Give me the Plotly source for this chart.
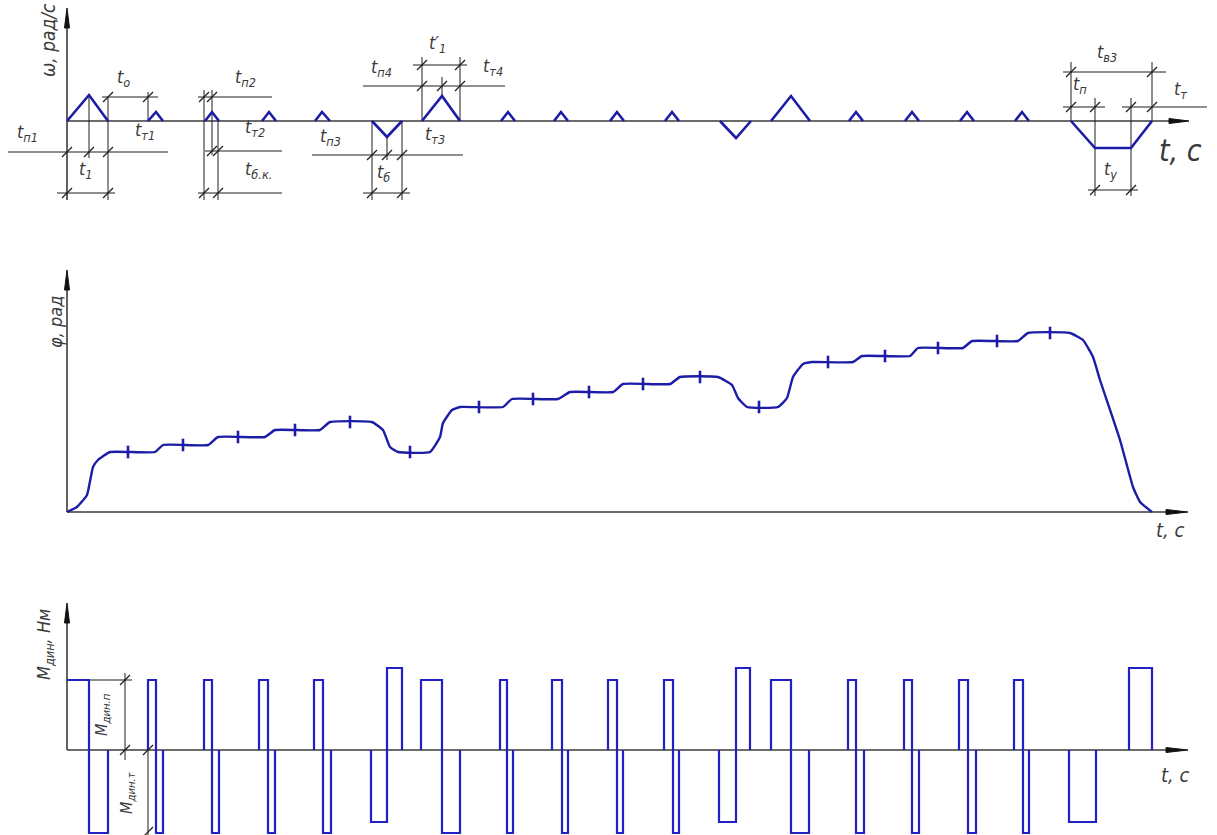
import plotly.graph_objects as go

# ---------------- data ----------------
# angular velocity manoeuvres, time in drawing units, None separates manoeuvres
omega_t = [0, 22, 41, None, 81, 89, 96, None, 138, 145, 152, None, 195, 202, 209, None,
           248, 255, 263, None, 305, 320, 335, None, 355, 375, 393, None,
           434, 441, 448, None, 487, 494, 501, None, 543, 550, 557, None, 598, 605, 612, None,
           653, 669, 684, None, 704, 724, 743, None, 782, 789, 796, None, 838, 845, 852, None,
           893, 900, 907, None, 948, 955, 962, None, 1004, 1028, 1064, 1085]
omega_w = [0, 26, 0, None, 0, 9, 0, None, 0, 9, 0, None, 0, 9, 0, None,
           0, 9, 0, None, 0, -16, 0, None, 0, 25, 0, None,
           0, 9, 0, None, 0, 9, 0, None, 0, 9, 0, None, 0, 9, 0, None,
           0, -17, 0, None, 0, 25, 0, None, 0, 9, 0, None, 0, 9, 0, None,
           0, 9, 0, None, 0, 9, 0, None, 0, -27, -27, 0]

# rotation angle
phi_t = [0, 10, 20, 26, 31, 43, 88, 96, 141, 151, 198, 208, 253, 263, 305, 316, 323, 331,
         363, 373, 376, 385, 393, 436, 445, 491, 503, 546, 556, 603, 613, 651, 665, 671, 680,
         711, 720, 726, 736, 745, 786, 795, 843, 851, 896, 905, 951, 961, 1003, 1016, 1026,
         1033, 1053, 1066, 1073, 1085]
phi_v = [0, 5, 17, 45, 52, 60, 60, 67, 67, 75, 75, 82, 82, 90, 90, 82, 65, 60,
         60, 75, 89, 102, 105, 105, 113, 113, 120, 120, 128, 128, 135, 135, 127, 114, 105,
         105, 114, 135, 148, 150, 150, 156, 156, 164, 164, 171, 171, 179, 179, 172, 155,
         132, 72, 25, 10, 0]
phi_mark_t = [61, 116, 171, 228, 283, 343, 412, 466, 522, 576, 633, 692, 761, 818, 871, 930, 983]
phi_mark_v = [60, 67, 75, 82, 90, 60, 105, 113, 120, 128, 135, 105, 150, 156, 164, 171, 179]

# dynamic torque, stepwise (held until next time point)
m_t = [0, 22, 41, None,
       81, 81, 89, 96, None, 137, 137, 145, 152, None, 192, 192, 201, 208, None,
       247, 247, 256, 264, None, 304, 304, 320, 335, None, 354, 354, 375, 393, None,
       433, 433, 440, 446, None, 485, 485, 495, 501, None, 541, 541, 550, 556, None,
       597, 597, 606, 612, None, 652, 652, 669, 683, None, 704, 704, 724, 742, None,
       781, 781, 789, 797, None, 837, 837, 845, 852, None, 892, 892, 901, 909, None,
       947, 947, 956, 962, None, 1002, 1002, 1029, None, 1062, 1062, 1085]
m_v = [70, -83, 0, None,
       0, 70, -83, 0, None, 0, 70, -83, 0, None, 0, 70, -83, 0, None,
       0, 70, -83, 0, None, 0, -72, 82, 0, None, 0, 70, -83, 0, None,
       0, 70, -83, 0, None, 0, 70, -83, 0, None, 0, 70, -83, 0, None,
       0, 70, -83, 0, None, 0, -72, 82, 0, None, 0, 70, -83, 0, None,
       0, 70, -83, 0, None, 0, 70, -83, 0, None, 0, 70, -83, 0, None,
       0, 70, -83, 0, None, 0, -72, 0, None, 0, 82, 0]

# ---------------- styling ----------------
BLUE = "#1c1ca6"
MBLUE = "#2020c4"
AX = "#3a3a3a"
DIM = "#1e1e1e"
TXT = "#3a3a3a"
FONT = "Liberation Sans Narrow, DejaVu Sans Condensed, Liberation Sans, sans-serif"

fig = go.Figure()

fig.add_trace(go.Scatter(x=omega_t, y=omega_w, mode="lines", yaxis="y",
                         line=dict(color=BLUE, width=2.6), connectgaps=False))
fig.add_trace(go.Scatter(x=phi_t, y=phi_v, mode="lines", yaxis="y2",
                         line=dict(color=BLUE, width=2.4, shape="spline", smoothing=0.4)))
fig.add_trace(go.Scatter(x=phi_mark_t, y=phi_mark_v, mode="markers", yaxis="y2",
                         marker=dict(symbol="line-ns", size=9,
                                     line=dict(color=BLUE, width=2.6))))
fig.add_trace(go.Scatter(x=m_t, y=m_v, mode="lines", yaxis="y3", line_shape="hv",
                         line=dict(color=MBLUE, width=2.2), connectgaps=False))

shapes = []


def seg(t0, v0, t1, v1, yref, color=DIM, width=1.0):
    shapes.append(dict(type="line", xref="x", yref=yref, x0=t0, y0=v0, x1=t1, y1=v1,
                       line=dict(color=color, width=width), layer="below"))


def head(path, yref):
    shapes.append(dict(type="path", xref="x", yref=yref, path=path,
                       fillcolor="#111", line=dict(color="#111", width=1)))


# coordinate axes of the three diagrams
seg(0, -79, 0, 100, "y", AX, 1.6)
seg(0, 0, 1105, 0, "y", AX, 1.6)
head("M 0,113 L -2.5,93 L 2.5,93 Z", "y")
head("M 1122,0 L 1102,2.5 L 1102,-2.5 Z", "y")

seg(0, 0, 0, 225, "y2", AX, 1.6)
seg(0, 0, 1100, 0, "y2", AX, 1.6)
head("M 0,242 L -2.5,222 L 2.5,222 Z", "y2")
head("M 1121,0 L 1099,2.5 L 1099,-2.5 Z", "y2")

seg(0, 0, 0, 132, "y3", AX, 1.6)
seg(0, 0, 1100, 0, "y3", AX, 1.6)
head("M 0,147 L -2.5,127 L 2.5,127 Z", "y3")
head("M 1121,0 L 1099,2.5 L 1099,-2.5 Z", "y3")

# dimension and extension lines of the velocity diagram
dims_w = [
    (22, 26, 22, -37), (41, 24, 41, -79), (-59, -31, 101, -31), (-10, -72, 48, -72),
    (35, 24, 91, 24), (81, 29, 81, 0),
    (137, 31, 137, -79), (145, 31, 145, -34), (151, 0, 151, -79),
    (131, 24, 205, 24), (138, -30, 215, -30), (131, -72, 215, -72),
    (245, -34, 396, -34), (296, -72, 343, -72), (305, 0, 305, -79), (335, 0, 335, -79),
    (320, -16, 320, -39),
    (296, 35, 438, 35), (346, 56, 400, 56), (355, 64, 355, 0), (393, 64, 393, 0),
    (375, 44, 375, 25),
    (996, 49, 1099, 49), (996, 14, 1038, 14), (1055, 14, 1140, 14),
    (1004, 59, 1004, 0), (1085, 59, 1085, 0), (1028, 23, 1028, -75), (1064, 23, 1064, -75),
    (1021, -69, 1071, -69),
]
for d in dims_w:
    seg(*d, "y")

ticks_w = [(0, -31), (22, -31), (41, -31), (0, -72), (41, -72), (41, 24), (81, 24),
           (137, 24), (145, 24), (145, -30), (151, -30), (137, -72), (151, -72),
           (305, -34), (320, -34), (335, -34), (305, -72), (335, -72),
           (355, 35), (375, 35), (393, 35), (355, 56), (393, 56),
           (1004, 49), (1085, 49), (1004, 14), (1028, 14), (1064, 14), (1085, 14),
           (1028, -69), (1064, -69)]

# dimension lines of the torque diagram
dims_m = [(22, 70, 65, 70), (58, 77, 58, -10), (81, 0, 81, -85)]
for d in dims_m:
    seg(*d, "y3")
ticks_m = [(58, 70), (58, 0), (81, 0), (81, -82)]

tick_marker = dict(symbol="line-ne", size=10, line=dict(color=DIM, width=1.2))
fig.add_trace(go.Scatter(x=[p[0] for p in ticks_w], y=[p[1] for p in ticks_w],
                         mode="markers", yaxis="y", marker=tick_marker))
fig.add_trace(go.Scatter(x=[p[0] for p in ticks_m], y=[p[1] for p in ticks_m],
                         mode="markers", yaxis="y3", marker=tick_marker))

annotations = []


def lab(text, t, v, yref, size=18, angle=0):
    annotations.append(dict(text=text, x=t, y=v, xref="x", yref=yref, showarrow=False,
                            textangle=angle, font=dict(family=FONT, size=size, color=TXT),
                            xanchor="center", yanchor="middle"))


def tl(sub):
    return "<i>t<sub>" + sub + "</sub></i>"


# velocity diagram labels
lab("<i>ω, рад/с</i>", -19, 81, "y", 19, -90)
lab(tl("п1"), -40, -12, "y")
lab(tl("т1"), 78, -10, "y")
lab(tl("о"), 56, 43, "y")
lab(tl("1"), 19, -49, "y")
lab(tl("п2"), 178, 43, "y")
lab(tl("т2"), 188, -7, "y")
lab(tl("б.к."), 191, -49, "y")
lab(tl("п3"), 263, -16, "y")
lab(tl("т3"), 368, -14, "y")
lab(tl("б"), 316, -52, "y")
lab(tl("п4"), 314, 53, "y")
lab("<i>t′<sub>1</sub></i>", 370, 77, "y")
lab(tl("т4"), 426, 54, "y")
lab(tl("в3"), 1040, 68, "y")
lab(tl("п"), 1013, 36, "y")
lab(tl("т"), 1113, 31, "y")
lab(tl("у"), 1043, -49, "y")
lab("<i>t, с</i>", 1113, -29, "y", 30)

# angle diagram labels
lab("<i>φ, рад</i>", -12, 190, "y2", 18, -90)
lab("<i>t, с</i>", 1103, -18, "y2", 20)

# torque diagram labels
lab("<i>M<sub>дин</sub>, Нм</i>", -22, 105, "y3", 18, -90)
lab("<i>M<sub>дин.п</sub></i>", 36, 35, "y3", 16, -90)
lab("<i>M<sub>дин.т</sub></i>", 61, -43, "y3", 16, -90)
lab("<i>t, с</i>", 1108, -25, "y3", 20)

H = 835
fig.update_layout(
    width=1217, height=H,
    margin=dict(l=0, r=0, t=0, b=0, pad=0),
    paper_bgcolor="white", plot_bgcolor="white",
    showlegend=False, hovermode=False,
    shapes=shapes, annotations=annotations,
    xaxis=dict(range=[-67, 1150], domain=[0, 1], visible=False, fixedrange=True),
    yaxis=dict(range=[-89, 121], domain=[625 / H, 1], visible=False, anchor="x",
               fixedrange=True),
    yaxis2=dict(range=[-28, 282], domain=[295 / H, 605 / H], visible=False, anchor="x",
                fixedrange=True),
    yaxis3=dict(range=[-85, 170], domain=[0, 255 / H], visible=False, anchor="x",
                fixedrange=True),
)

fig.write_html("out.html", config={"displayModeBar": False})
